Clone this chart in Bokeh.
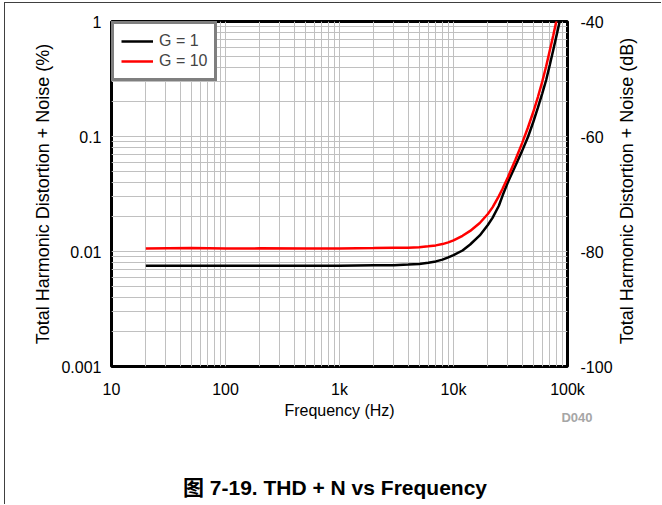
import math
from bokeh.plotting import figure
from bokeh.layouts import column
from bokeh.models import (FixedTicker, CustomJSTickFormatter, LinearAxis, LinearScale, Range1d,
                          Legend, LegendItem, Div)
from bokeh.embed import file_html
from bokeh.resources import INLINE

# ---- data ----
freq = [20, 50, 100, 200, 500, 1000, 2000, 3000, 4000, 5000, 6000, 7000, 8000, 9000,
        10000, 12000, 14000, 17000, 20000, 22000, 25000, 27000, 30000, 35000, 40000, 45000,
        50000, 55000, 60000, 65000, 70000, 75000, 80000, 85000, 90000]
thd_g1 = [0.0075, 0.0075, 0.00752, 0.0075, 0.00752, 0.0075, 0.0076, 0.0076, 0.0077, 0.0078,
          0.0080, 0.0082, 0.0085, 0.0089, 0.0093, 0.0102, 0.0115, 0.0138, 0.0170, 0.0196,
          0.0250, 0.0308, 0.0400, 0.0560, 0.075, 0.099, 0.133, 0.178, 0.236, 0.31, 0.42,
          0.565, 0.75, 0.98, 1.3]
thd_g10 = [0.0106, 0.0107, 0.0106, 0.01065, 0.0106, 0.0106, 0.0107, 0.0108, 0.0108, 0.0109,
           0.0111, 0.0113, 0.0116, 0.0120, 0.0125, 0.0137, 0.0151, 0.0177, 0.0212, 0.0242,
           0.0303, 0.0353, 0.0443, 0.0632, 0.0876, 0.1197, 0.1625, 0.2205, 0.299, 0.4085,
           0.5617, 0.7555, 1.017, 1.377, 1.85]

x_ticks = [10, 100, 1000, 10000, 100000]
y_ticks = [0.001, 0.01, 0.1, 1]
db_ticks = [-100, -80, -60, -40]
x_minor = [k * d for d in [10, 100, 1000, 10000] for k in range(2, 10)]
y_minor = [k * d for d in [0.001, 0.01, 0.1] for k in range(2, 10)]

FONT = "Liberation Sans"
GRID = "#c0c0c0"

p = figure(width=657, height=502, x_axis_type="log", y_axis_type="log",
           x_range=Range1d(10, 100000), y_range=Range1d(0.001, 1),
           output_backend="svg", toolbar_location=None,
           min_border_left=106, min_border_right=95, min_border_top=18, min_border_bottom=139)
p.title.visible = False
p.outline_line_color = "black"
p.outline_line_width = 3
p.background_fill_color = "white"
p.border_fill_color = None

# axes
p.xaxis.ticker = FixedTicker(ticks=x_ticks, minor_ticks=x_minor)
p.yaxis.ticker = FixedTicker(ticks=y_ticks, minor_ticks=y_minor)
p.xaxis.formatter = CustomJSTickFormatter(code="""
    const t = Math.round(tick);
    if (t >= 1000) return (t/1000) + "k";
    return t.toString();
""")
p.yaxis.formatter = CustomJSTickFormatter(code="return parseFloat(tick.toPrecision(3)).toString();")
p.xaxis.axis_label = "Frequency (Hz)"
p.yaxis.axis_label = "Total Harmonic Distortion + Noise (%)"

p.extra_y_ranges = {"db": Range1d(-100, -40)}
p.extra_y_scales = {"db": LinearScale()}
rax = LinearAxis(y_range_name="db", ticker=FixedTicker(ticks=db_ticks),
                 formatter=CustomJSTickFormatter(code="return Math.round(tick).toString();"))
p.add_layout(rax, "right")

for ax in [p.xaxis[0], p.yaxis[0], rax]:
    ax.major_tick_line_color = None
    ax.minor_tick_line_color = None
    ax.axis_line_color = None
    ax.major_label_text_font = FONT
    ax.major_label_text_font_size = "16px"
    ax.major_label_text_color = "black"
    ax.axis_label_text_font = FONT
    ax.axis_label_text_font_style = "normal"
    ax.axis_label_text_color = "black"

p.xaxis.major_label_standoff = 8
p.xaxis.axis_label_standoff = 1
p.xaxis.axis_label_text_font_size = "16px"
p.yaxis.major_label_standoff = 4
p.yaxis.axis_label_standoff = 5
p.yaxis.axis_label_text_font_size = "18px"
rax.major_label_standoff = 7

# grids
for g in [p.xgrid[0], p.ygrid[0]]:
    g.grid_line_color = GRID
    g.grid_line_width = 1
    g.minor_grid_line_color = GRID
    g.minor_grid_line_width = 1

# curves
r1 = p.line(freq, thd_g1, line_color="black", line_width=2.5)
r2 = p.line(freq, thd_g10, line_color="#ff0000", line_width=2.5)

legend = Legend(items=[LegendItem(label="G = 1", renderers=[r1]),
                       LegendItem(label="G = 10", renderers=[r2])],
                location="top_left", margin=0, padding=7, spacing=0,
                glyph_width=32, glyph_height=20, label_height=20, label_standoff=6,
                border_line_color="black", border_line_width=3,
                background_fill_color="white", background_fill_alpha=1,
                label_text_font=FONT, label_text_font_size="16px")
p.add_layout(legend, "center")

# texts outside the plot frame
base = {"position": "absolute", "white-space": "nowrap", "text-align": "center",
        "font-family": "'Liberation Sans', 'Noto Sans CJK SC', sans-serif", "color": "black"}
right_title = Div(text="Total Harmonic Distortion + Noise (dB)", width=340, height=20,
                  styles=dict(base, **{"left": "447px", "top": "173px", "font-size": "18px",
                                       "line-height": "20px", "transform": "rotate(-90deg)",
                                       "transform-origin": "50% 50%"}))
d040 = Div(text="D040", width=60, height=16,
           styles=dict(base, **{"left": "537px", "top": "402px", "font-size": "13px",
                                "font-weight": "bold", "color": "#a6a6a6",
                                "line-height": "16px"}))
caption = Div(text="图 7-19. THD + N vs Frequency", width=400, height=26,
              styles=dict(base, **{"left": "125px", "top": "467px", "font-size": "21px",
                                   "font-weight": "bold", "line-height": "26px"}))
frame_lines = Div(text="", width=657, height=502, margin=0,
                  styles={"position": "absolute", "left": "-1px", "top": "-1px",
                          "width": "657px", "height": "502px", "z-index": "10",
                          "pointer-events": "none", "background": "transparent",
                          "border-left": "1px solid #404040",
                          "border-top": "1px solid #404040"})

lay = column(p, right_title, d040, caption, frame_lines, spacing=0,
             styles={"position": "relative", "left": "4px", "top": "2px",
                     "border-left": "1px solid transparent",
                     "border-top": "1px solid transparent"})

open("out.html", "w").write(file_html(lay, INLINE))
